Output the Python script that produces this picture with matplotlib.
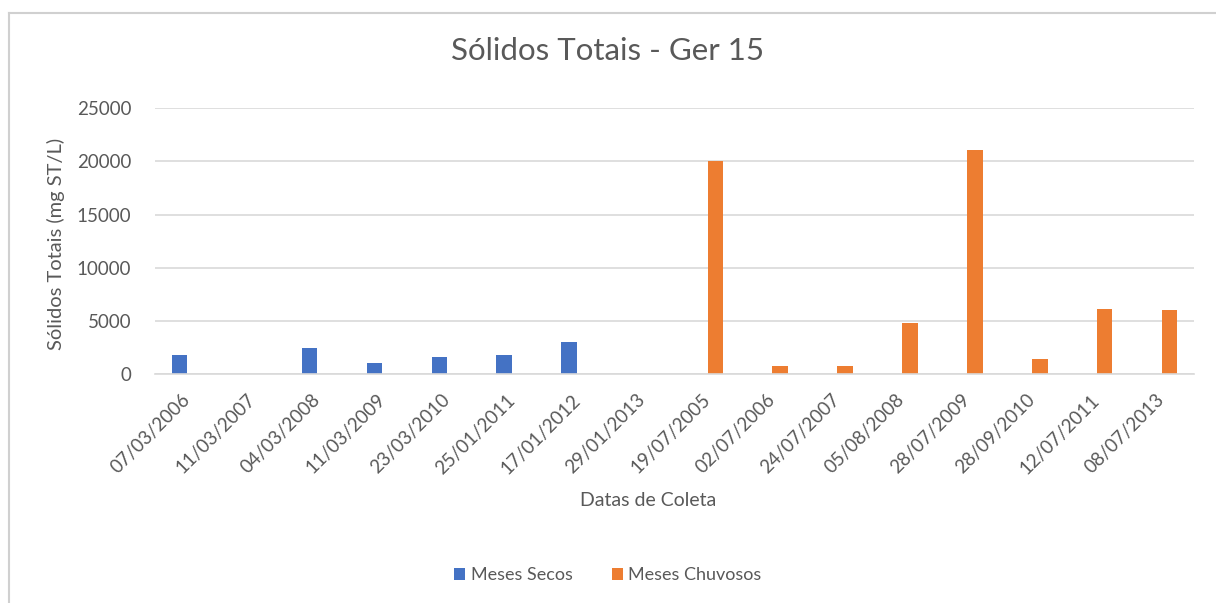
import numpy as np
import matplotlib.pyplot as plt
import matplotlib.transforms as mtransforms
from matplotlib.lines import Line2D

plt.rcParams['font.family'] = ['Lato', 'DejaVu Sans']

# dados
datas = ['07/03/2006', '11/03/2007', '04/03/2008', '11/03/2009', '23/03/2010',
         '25/01/2011', '17/01/2012', '29/01/2013', '19/07/2005', '02/07/2006',
         '24/07/2007', '05/08/2008', '28/07/2009', '28/09/2010', '12/07/2011',
         '08/07/2013']
secos = [1780, np.nan, 2480, 1100, 1620, 1780, 3030, np.nan,
         np.nan, np.nan, np.nan, np.nan, np.nan, np.nan, np.nan, np.nan]
chuvosos = [np.nan, np.nan, np.nan, np.nan, np.nan, np.nan, np.nan, np.nan,
            20050, 750, 750, 4800, 21100, 1460, 6180, 6000]

cor_texto = '#595959'
cor_grade = '#D9D9D9'

fig = plt.figure(figsize=(12.16, 6.03), dpi=100)
ax = fig.add_axes([0.1275, 0.379, 0.8545, 0.442])

x = np.arange(len(datas))
w = 0.235
ax.bar(x - 0.125, secos, w, color='#4472C4', label='Meses Secos')
ax.bar(x + 0.125, chuvosos, w, color='#ED7D31', label='Meses Chuvosos')

ax.set_xlim(-0.5, len(datas) - 0.5)
ax.set_ylim(0, 25000)
ax.set_yticks(np.arange(0, 25001, 5000))
ax.yaxis.grid(True, color=cor_grade, linewidth=1.2)
ax.set_axisbelow(True)
for s in ['top', 'right', 'left']:
    ax.spines[s].set_visible(False)
ax.spines['bottom'].set_color(cor_grade)
ax.spines['bottom'].set_linewidth(1.2)
ax.tick_params(length=0, colors=cor_texto, labelsize=13.5)
ax.tick_params(axis='y', pad=17)

ax.set_xticks(x)
ax.set_xticklabels(datas, rotation=45, ha='right', rotation_mode='anchor')
ax.tick_params(axis='x', pad=12)
desloc = mtransforms.ScaledTranslation(-0.06, 0, fig.dpi_scale_trans)
for lbl in ax.get_xticklabels():
    lbl.set_transform(lbl.get_transform() + desloc)

ax.set_ylabel('Sólidos Totais (mg ST/L)', color=cor_texto, fontsize=14.5)
ax.yaxis.set_label_coords(-0.087, 0.49)
ax.set_xlabel('Datas de Coleta', color=cor_texto, fontsize=14)
ax.xaxis.set_label_coords(0.475, -0.44)
fig.text(0.5, 0.915, 'Sólidos Totais - Ger 15', ha='center', va='center',
         color=cor_texto, fontsize=22.5)

leg = fig.legend(loc='center', bbox_to_anchor=(0.5, 0.046), ncol=2, frameon=False,
                 fontsize=13, handlelength=0.6, handleheight=0.6, handletextpad=0.3,
                 columnspacing=2.2)
for t in leg.get_texts():
    t.set_color(cor_texto)

# borda do gráfico
fig.add_artist(Line2D([9 / 1216, 1], [1 - 13 / 603, 1 - 13 / 603], color='#D0D0D0', linewidth=1.5))
fig.add_artist(Line2D([9 / 1216, 9 / 1216], [0, 1 - 13 / 603], color='#D0D0D0', linewidth=1.5))

fig.savefig('out.png', dpi=100)
